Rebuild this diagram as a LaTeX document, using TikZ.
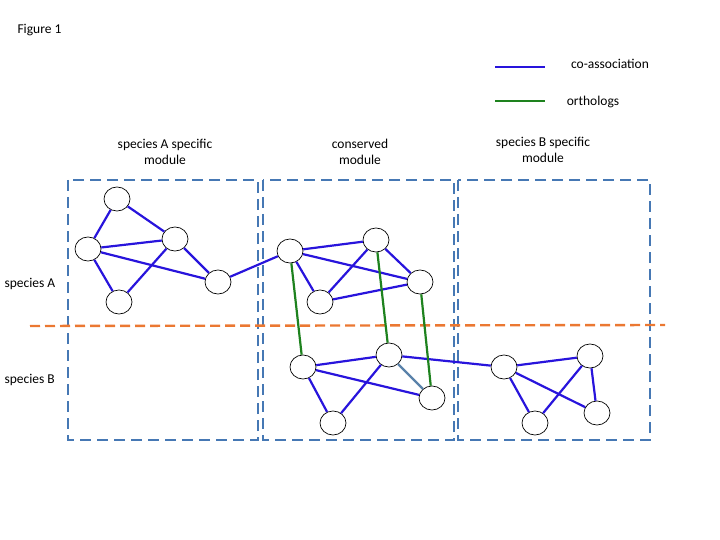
\documentclass[tikz,border=0pt]{standalone}
\usepackage{fontspec}
\setmainfont{Carlito}
\usetikzlibrary{shapes.geometric}
\begin{document}
\begin{tikzpicture}[x=1pt,y=-1pt,
  nd/.style={draw,fill=white,ellipse,minimum width=26pt,minimum height=24pt,inner sep=0pt,line width=0.7pt},
  co/.style={draw={rgb,255:red,40;green,20;blue,220},line width=2.2pt},
  orth/.style={draw={rgb,255:red,30;green,130;blue,30},line width=2.2pt},
  pale/.style={draw={rgb,255:red,90;green,130;blue,170},line width=2.2pt},
  box/.style={draw={rgb,255:red,70;green,120;blue,180},line width=2.8pt,dash pattern=on 11pt off 6pt},
  lbl/.style={font=\fontsize{13.5}{16}\selectfont,align=center}]
\useasboundingbox (0,0) rectangle (720,540);
\node[lbl,anchor=west] (fig) at (14,30) {Figure 1};
\coordinate (l1a) at (495,67); \coordinate (l1b) at (545,67);
\draw[co] (l1a) -- (l1b);
\node[lbl] (t1) at (610,64) {co-association};
\coordinate (l2a) at (495,101); \coordinate (l2b) at (545,101);
\draw[orth] (l2a) -- (l2b);
\node[lbl] (t2) at (593,102) {orthologs};
\node[lbl] (h1) at (165,152) {species A specific\\module};
\node[lbl] (h2) at (360,152) {conserved\\module};
\node[lbl] (h3) at (543,150) {species B specific\\module};
\node[lbl,anchor=west] (sa) at (1,284) {species A};
\node[lbl,anchor=west] (sb) at (1,380) {species B};
\draw[box] (68,180) rectangle (258,440);
\draw[box] (263,180) rectangle (454,440);
\draw[box] (458,180) rectangle (650,440);
\coordinate (oa) at (30,326); \coordinate (ob) at (665,325);
\draw[draw={rgb,255:red,235;green,120;blue,50},line width=2.4pt,dash pattern=on 10pt off 5pt] (oa) -- (ob);
\node[nd] (a1) at (117,199) {};
\node[nd] (a2) at (88,249) {};
\node[nd] (a3) at (175,239) {};
\node[nd] (a4) at (119,302) {};
\node[nd] (a5) at (218,282) {};
\node[nd] (b1) at (290,251) {};
\node[nd] (b2) at (376,240) {};
\node[nd] (b3) at (320,302) {};
\node[nd] (b4) at (420,282) {};
\node[nd] (c1) at (303,367) {};
\node[nd] (c2) at (389,355) {};
\node[nd] (c3) at (333,423) {};
\node[nd] (c4) at (432,398) {};
\node[nd] (d1) at (504,367) {};
\node[nd] (d2) at (590,356) {};
\node[nd] (d3) at (535,423) {};
\node[nd] (d4) at (597,413) {};
\foreach \u/\v in {a1/a2,a1/a3,a2/a3,a2/a4,a4/a3,a2/a5,a3/a5,a5/b1,b1/b2,b1/b4,b1/b3,b3/b2,b2/b4,b3/b4,c1/c2,c1/c4,c1/c3,c3/c2,c2/d1,d1/d2,d1/d3,d1/d4,d3/d2,d2/d4}
  \draw[co] (\u) -- (\v);
\draw[pale] (c2) -- (c4);
\draw[orth] (b1) -- (c1);
\draw[orth] (b2) -- (c2);
\draw[orth] (b4) -- (c4);
\end{tikzpicture}
\end{document}
